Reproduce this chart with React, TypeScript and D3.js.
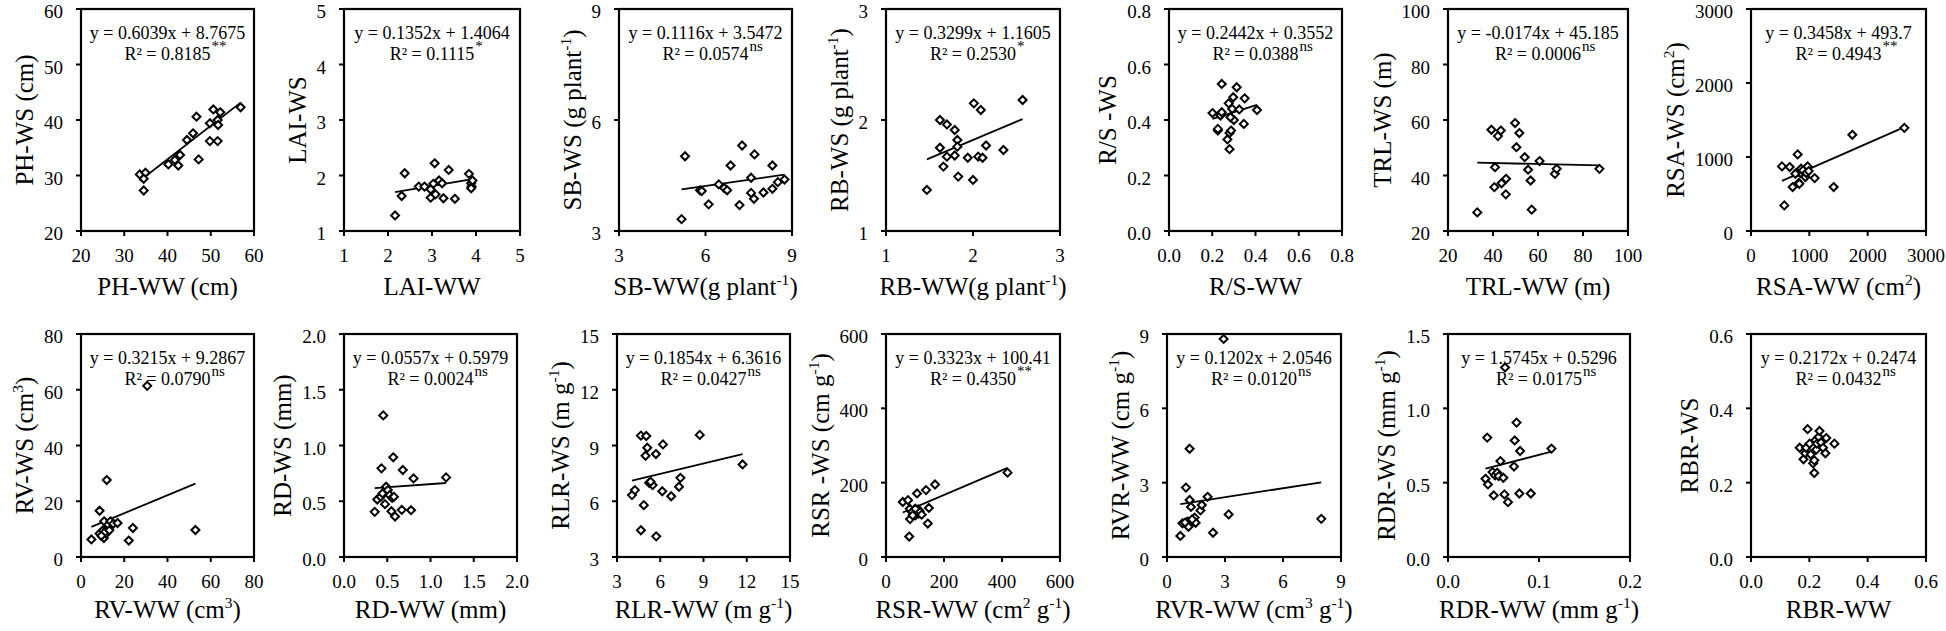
import React from "react";
import * as d3 from "d3";

// ---------------- data ----------------
const phWW = [33.6, 34.9, 34.5, 34.5, 40.2, 41.7, 42.5, 42.9, 44.5, 45.9, 46.7, 47.2, 49.8, 49.8, 50.6, 51.6, 51.7, 51.6, 52.2, 56.9];
const phWS = [30.2, 30.5, 29.4, 27.3, 32.0, 32.8, 31.8, 33.7, 36.4, 37.6, 40.6, 32.9, 39.4, 36.2, 41.9, 40.0, 39.1, 36.2, 41.4, 42.3];

const laiWW = [2.16, 2.31, 2.38, 2.7, 2.83, 2.97, 2.97, 3.03, 3.06, 3.08, 3.16, 3.23, 3.26, 3.52, 3.38, 3.84, 3.89, 3.9, 3.89, 3.92];
const laiWS = [1.28, 1.63, 2.04, 1.8, 1.8, 1.75, 1.6, 1.85, 2.22, 1.66, 1.91, 1.86, 1.59, 1.58, 2.1, 2.03, 1.86, 1.8, 1.77, 1.91];

const sbWW = [5.17, 5.29, 5.81, 5.87, 6.11, 6.46, 6.65, 6.75, 6.87, 7.18, 7.27, 7.58, 7.58, 7.68, 7.7, 8.01, 8.32, 8.32, 8.51, 8.74];
const sbWS = [3.32, 5.02, 4.1, 4.08, 3.72, 4.26, 4.16, 4.1, 4.77, 3.7, 5.31, 4.44, 4.03, 3.87, 5.07, 4.04, 4.77, 4.14, 4.32, 4.39];

const rbWW = [1.47, 1.62, 1.62, 1.66, 1.7, 1.7, 1.79, 1.79, 1.82, 1.82, 1.83, 1.94, 2.0, 2.01, 2.06, 2.09, 2.11, 2.15, 2.35, 2.57];
const rbWS = [1.37, 2.0, 1.75, 1.58, 1.96, 1.67, 1.91, 1.68, 1.82, 1.76, 1.49, 1.66, 1.46, 2.15, 1.67, 2.09, 1.66, 1.77, 1.73, 2.18];

const rsWW = [0.201, 0.226, 0.226, 0.238, 0.244, 0.244, 0.27, 0.28, 0.28, 0.287, 0.276, 0.292, 0.297, 0.3, 0.313, 0.325, 0.346, 0.35, 0.407, 0.284];
const rsWS = [0.425, 0.362, 0.368, 0.416, 0.53, 0.428, 0.33, 0.295, 0.353, 0.362, 0.46, 0.44, 0.482, 0.4, 0.518, 0.438, 0.386, 0.478, 0.436, 0.41];

const trlWW = [33.0, 39.3, 40.9, 40.6, 42.2, 43.5, 43.8, 45.8, 45.7, 49.8, 50.4, 51.7, 54.1, 55.6, 56.7, 57.2, 60.7, 67.5, 68.3, 87.3];
const trlWS = [26.7, 56.5, 43.0, 35.8, 54.2, 56.2, 37.2, 38.8, 33.2, 58.9, 50.2, 55.3, 46.6, 42.1, 38.2, 27.7, 45.2, 40.6, 42.4, 42.4];

const rsaWW = [571, 531, 663, 714, 800, 800, 817, 846, 857, 891, 931, 949, 971, 989, 1091, 1417, 1737, 2629, 829, 760];
const rsaWS = [346, 873, 864, 594, 1035, 796, 648, 783, 841, 819, 729, 783, 873, 810, 715, 594, 1300, 1394, 639, 774];

const rvWW = [4.8, 8.6, 8.6, 10.2, 10.6, 10.7, 11.6, 11.9, 12.2, 12.6, 13.6, 14.9, 16.9, 22.1, 24.0, 30.6, 52.9, 11.1, 9.4, 13.1];
const rvWS = [6.3, 16.6, 8.4, 9.6, 6.8, 12.8, 8.4, 27.6, 10.4, 11.6, 12.8, 11.9, 12.2, 5.9, 10.4, 61.4, 9.7, 9.0, 7.6, 9.6];

const rdWW = [0.355, 0.384, 0.433, 0.425, 0.445, 0.454, 0.474, 0.487, 0.507, 0.528, 0.548, 0.557, 0.569, 0.577, 0.59, 0.668, 0.68, 0.775, 0.804, 1.18];
const rdWS = [0.405, 0.516, 0.795, 0.54, 0.57, 1.27, 0.474, 0.63, 0.6, 0.555, 0.41, 0.53, 0.894, 0.54, 0.363, 0.423, 0.78, 0.42, 0.705, 0.714];

const rlrWW = [4.04, 4.24, 4.66, 4.66, 4.86, 4.98, 5.03, 5.1, 5.23, 5.47, 5.7, 5.72, 6.14, 6.19, 6.76, 7.3, 7.4, 8.74, 11.71, 5.33];
const rlrWS = [6.33, 6.6, 4.44, 9.53, 5.79, 8.45, 9.51, 8.88, 6.99, 6.87, 8.54, 4.11, 6.54, 9.06, 6.27, 6.78, 7.26, 9.57, 7.98, 7.05];

const rsrWW = [58, 76, 80, 82, 83, 90, 101, 107, 111, 113, 107, 116, 101, 138, 148, 144, 169, 419, 92, 123];
const rsrWS = [148, 153, 55, 130, 102, 121, 112, 121, 128, 117, 171, 123, 130, 180, 132, 90, 195, 227, 112, 114];

const rvrWW = [0.69, 0.8, 0.98, 1.06, 1.11, 1.17, 1.17, 1.24, 1.35, 1.43, 1.48, 1.73, 1.8, 2.1, 2.38, 2.93, 3.19, 7.98, 1.3, 0.93];
const rvrWS = [0.85, 1.36, 2.8, 1.43, 1.22, 2.3, 4.37, 2.02, 1.45, 1.59, 1.38, 1.88, 2.1, 2.43, 0.98, 8.8, 1.72, 1.54, 1.52, 1.39];

const rdrWW = [0.0412, 0.0439, 0.0431, 0.0502, 0.049, 0.0518, 0.0541, 0.0557, 0.0576, 0.0608, 0.062, 0.0627, 0.0659, 0.0725, 0.0733, 0.0753, 0.0784, 0.0792, 0.091, 0.1137];
const rdrWS = [0.526, 0.488, 0.803, 0.414, 0.571, 0.549, 0.567, 0.544, 0.645, 0.533, 0.421, 1.275, 0.369, 0.609, 0.784, 0.904, 0.427, 0.713, 0.427, 0.729];

const rbrWW = [0.167, 0.18, 0.186, 0.194, 0.189, 0.201, 0.205, 0.213, 0.217, 0.217, 0.221, 0.224, 0.226, 0.232, 0.235, 0.24, 0.247, 0.255, 0.258, 0.286];
const rbrWS = [0.294, 0.263, 0.279, 0.344, 0.294, 0.305, 0.276, 0.252, 0.226, 0.26, 0.314, 0.289, 0.305, 0.323, 0.339, 0.308, 0.294, 0.279, 0.32, 0.305];

// tick labels
const ticksPH = ["20", "30", "40", "50", "60"];
const ticksLAI = ["1", "2", "3", "4", "5"];
const ticksSB = ["3", "6", "9"];
const ticksRB = ["1", "2", "3"];
const ticksRS = ["0.0", "0.2", "0.4", "0.6", "0.8"];
const ticksTRL = ["20", "40", "60", "80", "100"];
const ticksRSA = ["0", "1000", "2000", "3000"];
const ticksRV = ["0", "20", "40", "60", "80"];
const ticksRD = ["0.0", "0.5", "1.0", "1.5", "2.0"];
const ticksRLR = ["3", "6", "9", "12", "15"];
const ticksRSR = ["0", "200", "400", "600"];
const ticksRVR = ["0", "3", "6", "9"];
const ticksRDRx = ["0.0", "0.1", "0.2"];
const ticksRDRy = ["0.0", "0.5", "1.0", "1.5"];
const ticksRBR = ["0.0", "0.2", "0.4", "0.6"];

// regression equations (slope, intercept, R², significance)
const eqSlope = ["0.6039", "0.1352", "0.1116", "0.3299", "0.2442", "-0.0174", "0.3458", "0.3215", "0.0557", "0.1854", "0.3323", "0.1202", "1.5745", "0.2172"];
const eqIntercept = ["8.7675", "1.4064", "3.5472", "1.1605", "0.3552", "45.185", "493.7", "9.2867", "0.5979", "6.3616", "100.41", "2.0546", "0.5296", "0.2474"];
const eqR2 = ["0.8185", "0.1115", "0.0574", "0.2530", "0.0388", "0.0006", "0.4943", "0.0790", "0.0024", "0.0427", "0.4350", "0.0120", "0.0175", "0.0432"];
const eqSig = ["**", "*", "ns", "*", "ns", "ns", "**", "ns", "ns", "ns", "**", "ns", "ns", "ns"];
const showLine = [true, true, true, true, true, true, true, true, true, true, true, true, true, false];

type Part = { t: string; sup?: boolean };
const P = (s: string): Part[] => {
  const out: Part[] = [];
  s.split("^").forEach((seg, i) => {
    if (seg) out.push({ t: seg, sup: i % 2 === 1 });
  });
  return out;
};

const xTitles = [
  "PH-WW (cm)", "LAI-WW", "SB-WW(g plant^-1^)", "RB-WW(g plant^-1^)", "R/S-WW", "TRL-WW (m)", "RSA-WW (cm^2^)",
  "RV-WW (cm^3^)", "RD-WW (mm)", "RLR-WW (m g^-1^)", "RSR-WW (cm^2^ g^-1^)", "RVR-WW (cm^3^ g^-1^)", "RDR-WW (mm g^-1^)", "RBR-WW",
];
const yTitles = [
  "PH-WS (cm)", "LAI-WS", "SB-WS (g plant^-1^)", "RB-WS (g plant^-1^)", "R/S -WS", "TRL-WS (m)", "RSA-WS (cm^2^)",
  "RV-WS (cm^3^)", "RD-WS (mm)", "RLR-WS (m g^-1^)", "RSR -WS (cm g^-1^)", "RVR-WW (cm g^-1^)", "RDR-WS (mm g^-1^)", "RBR-WS",
];

const xs = [phWW, laiWW, sbWW, rbWW, rsWW, trlWW, rsaWW, rvWW, rdWW, rlrWW, rsrWW, rvrWW, rdrWW, rbrWW];
const ys = [phWS, laiWS, sbWS, rbWS, rsWS, trlWS, rsaWS, rvWS, rdWS, rlrWS, rsrWS, rvrWS, rdrWS, rbrWS];
const xTickSets = [ticksPH, ticksLAI, ticksSB, ticksRB, ticksRS, ticksTRL, ticksRSA, ticksRV, ticksRD, ticksRLR, ticksRSR, ticksRVR, ticksRDRx, ticksRBR];
const yTickSets = [ticksPH, ticksLAI, ticksSB, ticksRB, ticksRS, ticksTRL, ticksRSA, ticksRV, ticksRD, ticksRLR, ticksRSR, ticksRVR, ticksRDRy, ticksRBR];

// ---------------- layout ----------------
const W = 1946;
const H = 631;
const ROWS = [
  [9, 231],
  [334, 557],
];
const XTITLE_OFF = [64, 61];
const COLS = [
  [[81, 254], [344, 520], [619, 792], [886, 1060], [1169, 1342], [1448, 1628], [1751, 1926]],
  [[81, 254], [344, 517], [617, 790], [886, 1060], [1167, 1341], [1448, 1630], [1751, 1926]],
];
const FONT = "'Liberation Serif', 'Times New Roman', Times, serif";
const TICK_FS = 19;
const TITLE_FS = 25;
const EQ_FS = 18;
const SUP_FS = 15;

let _ctx: CanvasRenderingContext2D | null = null;
function measure(text: string, fs: number) {
  if (!_ctx) _ctx = document.createElement("canvas").getContext("2d");
  if (!_ctx) return text.length * fs * 0.5;
  _ctx.font = `${fs}px "Liberation Serif"`;
  return _ctx.measureText(text).width;
}

function Rich({ x, y, parts, fs, anchor = "middle", rotate = false }: { x: number; y: number; parts: Part[]; fs: number; anchor?: string; rotate?: boolean }) {
  const nodes: any[] = [];
  let up = false;
  const shift = fs * 0.4;
  parts.forEach((p, i) => {
    if (p.sup) {
      nodes.push(
        <tspan key={i} dy={-shift} style={{ fontSize: fs * 0.62 }}>
          {p.t}
        </tspan>
      );
      up = true;
    } else {
      nodes.push(
        <tspan key={i} dy={up ? shift : 0}>
          {p.t}
        </tspan>
      );
      up = false;
    }
  });
  return (
    <text x={x} y={y} textAnchor={anchor} fill="#000" style={{ fontFamily: FONT, fontSize: fs }} transform={rotate ? `rotate(-90 ${x} ${y})` : undefined}>
      {nodes}
    </text>
  );
}

function labelWidth(s: string, fs: number) {
  let w = 0;
  for (const c of s) w += c === "." ? 0.25 : 0.5;
  return w * fs;
}

function Panel({ i }: { i: number }) {
  const row = i < 7 ? 0 : 1;
  const col = i % 7;
  const [x0, x1] = COLS[row][col];
  const [y0, y1] = ROWS[row];
  const xt = xTickSets[i].map(Number);
  const yt = yTickSets[i].map(Number);
  const sx = d3.scaleLinear().domain([xt[0], xt[xt.length - 1]]).range([x0, x1]);
  const sy = d3.scaleLinear().domain([yt[0], yt[yt.length - 1]]).range([y1, y0]);
  const xd = xs[i];
  const yd = ys[i];
  const slope = parseFloat(eqSlope[i]);
  const icpt = parseFloat(eqIntercept[i]);
  const [mn, mx] = d3.extent(xd) as [number, number];
  const line = d3.line<number>().x((v) => sx(v)).y((v) => sy(slope * v + icpt));
  const maxLab = d3.max(yTickSets[i], (s) => labelWidth(s, TICK_FS)) as number;
  const labRight = x0 - 18;
  const titleX = labRight - maxLab - 11;
  const cx = (x0 + x1) / 2;
  const r = 4;
  const diamond = `M0,${-r}L${r},0L0,${r}L${-r},0Z`;
  const eq1 = `y = ${eqSlope[i]}x + ${eqIntercept[i]}`;
  const r2 = `R² = ${eqR2[i]}`;
  const r2w = measure(r2, EQ_FS);
  const ts = { fontFamily: FONT, fontSize: TICK_FS };
  return (
    <g>
      {xt.map((v, k) => (
        <line key={"xt" + k} x1={sx(v)} x2={sx(v)} y1={y1} y2={y1 + 5} stroke="#000" strokeWidth={2} />
      ))}
      {yt.map((v, k) => (
        <line key={"yt" + k} x1={x0 - 5} x2={x0} y1={sy(v)} y2={sy(v)} stroke="#000" strokeWidth={2} />
      ))}
      {xTickSets[i].map((s, k) => (
        <text key={"xl" + k} x={sx(xt[k])} y={y1 + 31} textAnchor="middle" style={ts}>
          {s}
        </text>
      ))}
      {yTickSets[i].map((s, k) => (
        <text key={"yl" + k} x={labRight} y={sy(yt[k]) + 9} textAnchor="end" style={ts}>
          {s}
        </text>
      ))}
      {showLine[i] && <path d={line([mn, mx]) as string} stroke="#000" strokeWidth={1.8} fill="none" />}
      {xd.map((v, k) => (
        <path key={"p" + k} d={diamond} transform={`translate(${sx(v)},${sy(yd[k])})`} fill="#fff" stroke="#000" strokeWidth={2} />
      ))}
      <rect x={x0} y={y0} width={x1 - x0} height={y1 - y0} fill="none" stroke="#000" strokeWidth={2.2} />
      <text x={cx} y={y0 + 30} textAnchor="middle" style={{ fontFamily: FONT, fontSize: EQ_FS }}>
        {eq1}
      </text>
      <text x={cx} y={y0 + 51} textAnchor="middle" style={{ fontFamily: FONT, fontSize: EQ_FS }}>
        {r2}
      </text>
      <text x={cx + r2w / 2 + 1} y={y0 + 42} textAnchor="start" style={{ fontFamily: FONT, fontSize: SUP_FS }}>
        {eqSig[i]}
      </text>
      <Rich x={cx} y={y1 + XTITLE_OFF[row]} parts={P(xTitles[i])} fs={TITLE_FS} />
      <Rich x={titleX} y={(y0 + y1) / 2} parts={P(yTitles[i])} fs={TITLE_FS} rotate />
    </g>
  );
}

export default function App() {
  return (
    <svg width={W} height={H} style={{ position: "absolute", left: 0, top: 0, background: "#fff" }}>
      <rect width={W} height={H} fill="#fff" />
      {xs.map((_, i) => (
        <Panel key={i} i={i} />
      ))}
    </svg>
  );
}
